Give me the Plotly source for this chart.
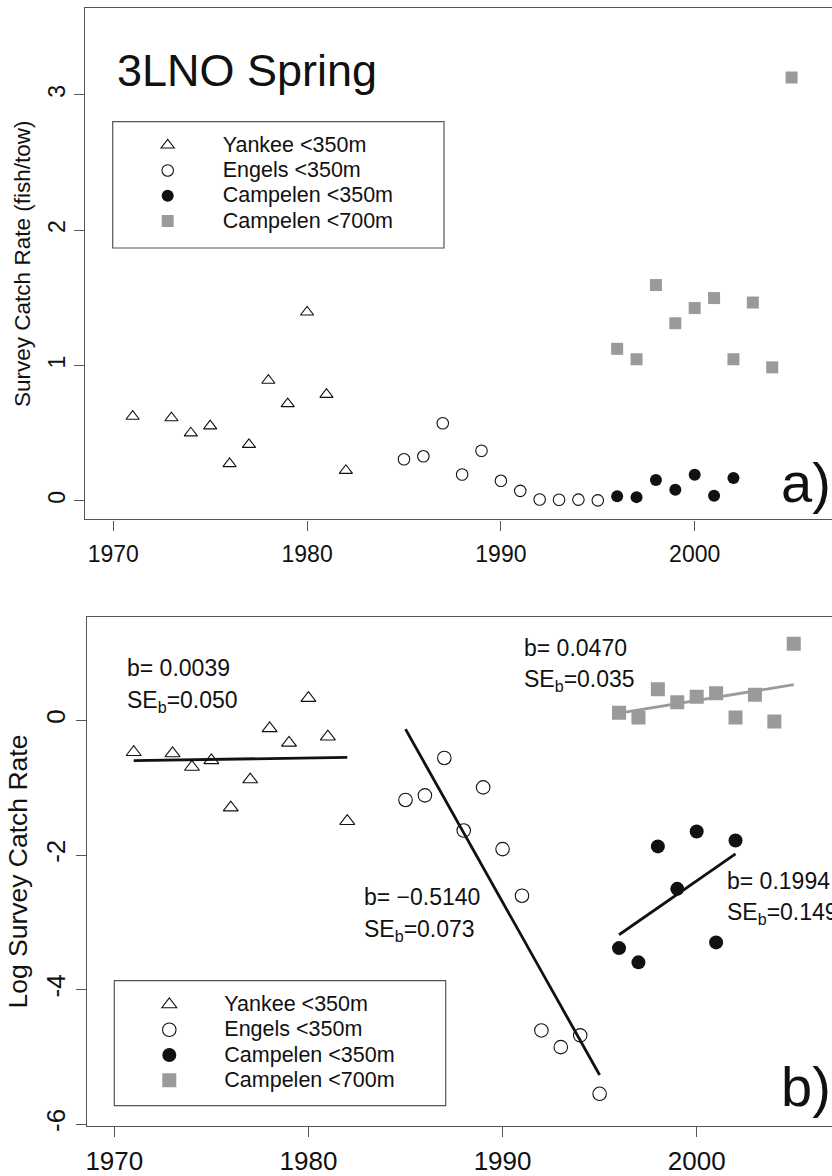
import numpy as np
import plotly.graph_objects as go

W, H = 832, 1176
FONT = "Liberation Sans, Arial, Helvetica, sans-serif"

# ---------------- data (survey catch rate, fish/tow) ----------------
yankee_years = [1971, 1973, 1974, 1975, 1976, 1977, 1978, 1979, 1980, 1981, 1982]
yankee_rate = [0.624, 0.613, 0.501, 0.553, 0.274, 0.416, 0.890, 0.717, 1.394, 0.786, 0.224]

engels_years = [1985, 1986, 1987, 1988, 1989, 1990, 1991, 1992, 1993, 1994, 1995]
engels_rate = [0.307, 0.329, 0.573, 0.195, 0.370, 0.148, 0.074, 0.0100, 0.0078, 0.0093, 0.0039]

camp350_years = [1996, 1997, 1998, 1999, 2000, 2001, 2002]
camp350_rate = [0.034, 0.0275, 0.154, 0.082, 0.192, 0.037, 0.168]

camp700_years = [1996, 1997, 1998, 1999, 2000, 2001, 2002, 2003, 2004, 2005]
camp700_rate = [1.123, 1.046, 1.594, 1.312, 1.424, 1.498, 1.046, 1.465, 0.986, 3.128]

series_names = ["Yankee <350m", "Engels <350m", "Campelen <350m", "Campelen <700m"]
slope_labels = ["0.0039", "\u22120.5140", "0.1994", "0.0470"]
se_labels = ["0.050", "0.073", "0.149", "0.035"]

x_ticks = [1970, 1980, 1990, 2000]
top_y_ticks = [0, 1, 2, 3]
bot_y_ticks = [-6, -4, -2, 0]
bot_y_ticktext = ["-6", "-4", "-2", "0"]

# ---------------- styling ----------------
BLACK = "#111111"
GRAY = "#9a9a9a"
AXC = "#555555"


def px(xp):
    return xp / W


def py(yp):
    return 1 - yp / H


series = [
    (yankee_years, yankee_rate, dict(symbol="triangle-up-open", color=BLACK, line=dict(width=1.1, color=BLACK))),
    (engels_years, engels_rate, dict(symbol="circle-open", color=BLACK, line=dict(width=1.1, color=BLACK))),
    (camp350_years, camp350_rate, dict(symbol="circle", color=BLACK, line=dict(width=0))),
    (camp700_years, camp700_rate, dict(symbol="square", color=GRAY, line=dict(width=0))),
]
top_sizes = [11.5, 11.5, 12, 12]
bot_sizes = [13, 13.5, 14, 14]

fig = go.Figure()

# legend label: larger text inside a legend whose base font sets the row spacing
legend_text = '<span style="font-size:21.5px">{}</span>'

# Top panel: raw rates
for (yrs, vals, mk), name, sz in zip(series, series_names, top_sizes):
    m = dict(mk)
    m["size"] = sz
    fig.add_trace(go.Scatter(x=yrs, y=vals, mode="markers", marker=m,
                             name=legend_text.format(name.replace("<", "&lt;")),
                             legend="legend", xaxis="x", yaxis="y", hoverinfo="x+y"))

# Bottom panel: log rates with regression lines
for (yrs, vals, mk), name, sz in zip(series, series_names, bot_sizes):
    m = dict(mk)
    m["size"] = sz
    fig.add_trace(go.Scatter(x=yrs, y=np.log(vals), mode="markers", marker=m,
                             name=legend_text.format(name.replace("<", "&lt;")),
                             legend="legend2", xaxis="x2", yaxis="y2", hoverinfo="x+y"))

line_colors = [BLACK, BLACK, BLACK, GRAY]
for (yrs, vals, mk), lc in zip(series, line_colors):
    xs = np.array(yrs, dtype=float)
    ly = np.log(np.array(vals))
    b, a = np.polyfit(xs, ly, 1)
    xe = np.array([xs.min(), xs.max()])
    fig.add_trace(go.Scatter(x=xe, y=a + b * xe, mode="lines",
                             line=dict(color=lc, width=2.8),
                             showlegend=False, xaxis="x2", yaxis="y2", hoverinfo="skip"))

# ---------------- axes ----------------
common_x = dict(showgrid=False, zeroline=False, showline=True, mirror=True,
                linecolor=AXC, linewidth=1.2, ticks="outside", ticklen=10,
                tickcolor=AXC, tickwidth=1, tickvals=x_ticks, automargin=False)
common_y = dict(showgrid=False, zeroline=False, showline=True, mirror=False,
                linecolor=AXC, linewidth=1.2, ticks="outside", ticklen=10,
                tickcolor=AXC, tickwidth=1, tickangle=-90, automargin=False)

fig.update_layout(
    xaxis=dict(common_x, domain=[px(85), 1], range=[1968.54, 2007.085], anchor="y",
               tickfont=dict(family=FONT, size=23, color=BLACK), ticklabelstandoff=4),
    yaxis=dict(common_y, domain=[py(519.4), py(8.1)], range=[-0.137, 3.64], anchor="x",
               tickvals=top_y_ticks, tickfont=dict(family=FONT, size=23, color=BLACK),
               ticklabelstandoff=0,
               title=dict(text="Survey Catch Rate (fish/tow)", standoff=6,
                          font=dict(family=FONT, size=22.5, color=BLACK))),
    xaxis2=dict(common_x, domain=[px(86.7), 1], range=[1968.578, 2006.97], anchor="y2",
                tickfont=dict(family=FONT, size=26, color=BLACK), ticklabelstandoff=2),
    yaxis2=dict(common_y, domain=[py(1126), py(617.2)], range=[-6.025, 1.535], anchor="x2",
                tickvals=bot_y_ticks, ticktext=bot_y_ticktext,
                tickfont=dict(family=FONT, size=26, color=BLACK),
                ticklabelstandoff=0,
                title=dict(text="Log Survey Catch Rate", standoff=5,
                           font=dict(family=FONT, size=26.5, color=BLACK))),
)

legend_common = dict(xanchor="left", yanchor="top", bgcolor="rgba(0,0,0,0)",
                     borderwidth=0, itemwidth=100, tracegroupgap=0,
                     itemsizing="trace", itemclick=False, itemdoubleclick=False,
                     font=dict(family=FONT, size=17.15, color=BLACK))
fig.update_layout(
    legend=dict(legend_common, x=px(112.7), y=py(127.5)),
    legend2=dict(legend_common, x=px(114.3), y=py(986.8)),
)

# legend frames
fig.add_shape(type="rect", xref="paper", yref="paper", x0=px(112.7), x1=px(444),
              y0=py(248), y1=py(121.7), line=dict(color=AXC, width=1.2), layer="above")
fig.add_shape(type="rect", xref="paper", yref="paper", x0=px(114.3), x1=px(445.7),
              y0=py(1105.7), y1=py(980.6), line=dict(color=AXC, width=1.2), layer="above")

# ---------------- text annotations ----------------
def note(text, xp, yp, size, anchor="left"):
    fig.add_annotation(text=text, x=px(xp), y=py(yp), xref="paper", yref="paper",
                       xanchor=anchor, yanchor="middle", showarrow=False,
                       font=dict(family=FONT, size=size, color=BLACK))

note("3LNO Spring", 115, 70, 45)
note("a)", 779, 482, 56)
note("b)", 779, 1086, 56)

ann_pos = [(125, 668), (362, 897), (725, 880.5), (521.7, 647.5)]
for (xp, yp), bl, se in zip(ann_pos, slope_labels, se_labels):
    note("b= " + bl, xp, yp, 23)
    note("SE<sub>b</sub>=" + se, xp, yp + 33, 23)

fig.update_layout(
    width=W, height=H, margin=dict(l=0, r=0, t=0, b=0),
    paper_bgcolor="white", plot_bgcolor="white",
    font=dict(family=FONT, color=BLACK),
    showlegend=True,
)

fig.write_html(
    "out.html",
    config={"displayModeBar": False},
    post_script="document.body.style.margin='0';document.body.style.overflow='hidden';",
)
